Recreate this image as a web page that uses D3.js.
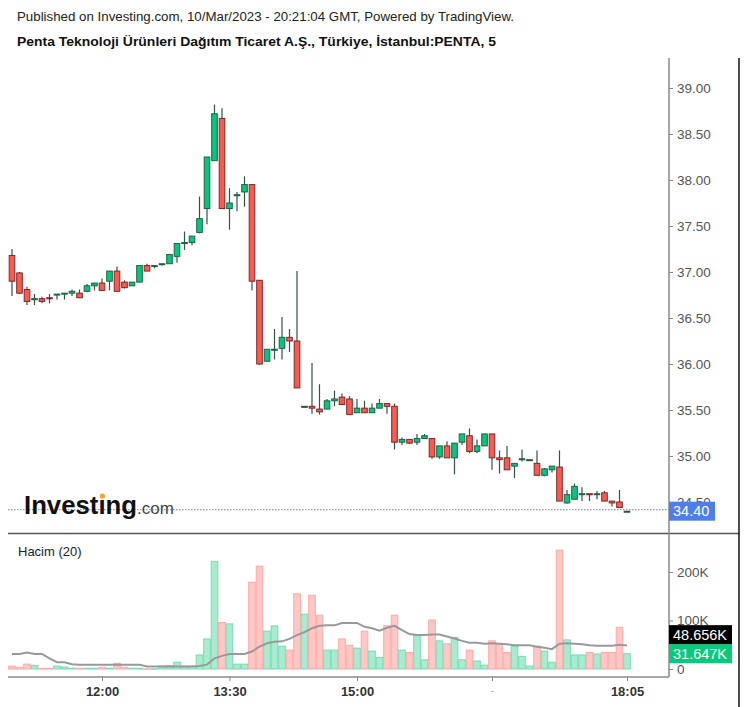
<!DOCTYPE html>
<html><head><meta charset="utf-8">
<script src="https://cdn.jsdelivr.net/npm/d3@7"></script>
<style>body{margin:0;background:#fff;} svg{display:block;font-family:"Liberation Sans",Arial,sans-serif;}</style>
</head><body><svg id="c" width="747" height="707"></svg>
<script>
// ---- data (5-minute bars) ----
const opens  = [37.18,36.99,36.81,36.70,36.71,36.72,36.75,36.76,36.77,36.77,36.79,36.85,36.88,36.90,37.01,36.89,36.85,36.89,37.07,37.06,37.08,37.09,37.17,37.31,37.32,37.43,37.69,38.21,38.67,37.69,37.83,37.87,37.95,36.91,36.03,36.15,36.17,36.29,36.25,35.54,35.54,35.51,35.51,35.60,35.64,35.62,35.47,35.52,35.47,35.52,35.57,35.54,35.15,35.18,35.15,35.19,35.19,34.99,35.11,34.98,35.15,35.22,35.05,35.11,35.24,34.98,34.98,34.89,34.96,34.96,34.92,34.79,34.85,34.88,34.49,34.53,34.58,34.59,34.58,34.60,34.51,34.50,34.40];
const highs  = [37.25,37.00,36.84,36.76,36.73,36.76,36.76,36.77,36.81,36.81,36.87,36.88,36.93,37.01,37.06,36.91,36.89,37.07,37.09,37.07,37.09,37.19,37.31,37.44,37.39,37.82,38.25,38.82,38.78,37.91,37.87,38.04,37.95,36.91,36.16,36.38,36.51,36.38,37.01,35.54,36.01,35.78,35.62,35.71,35.68,35.65,35.62,35.60,35.57,35.62,35.57,35.57,35.20,35.18,35.24,35.24,35.19,35.11,35.16,35.14,35.24,35.30,35.18,35.24,35.24,35.06,35.11,34.92,35.07,34.96,35.06,34.87,34.89,35.06,34.63,34.70,34.66,34.59,34.62,34.62,34.51,34.63,34.40];
const lows   = [36.74,36.76,36.64,36.64,36.66,36.66,36.70,36.70,36.74,36.72,36.78,36.80,36.80,36.80,36.79,36.82,36.85,36.89,37.01,37.04,37.07,37.09,37.10,37.24,37.29,37.42,37.52,38.21,37.69,37.46,37.66,37.71,36.80,35.99,36.03,36.05,36.05,36.13,35.74,35.54,35.46,35.45,35.51,35.54,35.56,35.45,35.47,35.47,35.47,35.52,35.46,35.07,35.12,35.13,35.12,35.19,34.97,34.97,34.98,34.80,35.12,35.03,35.03,35.11,34.85,34.81,34.85,34.76,34.94,34.96,34.79,34.78,34.82,34.51,34.48,34.53,34.51,34.51,34.53,34.51,34.45,34.44,34.40];
const closes = [36.90,36.77,36.68,36.71,36.68,36.71,36.76,36.77,36.79,36.72,36.85,36.88,36.80,37.01,36.79,36.83,36.89,37.07,37.01,37.07,37.09,37.19,37.31,37.32,37.39,37.58,38.25,38.72,37.69,37.75,37.84,37.95,36.90,36.00,36.16,36.16,36.29,36.25,35.74,35.54,35.52,35.48,35.60,35.62,35.56,35.45,35.52,35.47,35.52,35.57,35.54,35.15,35.18,35.14,35.19,35.22,34.99,35.11,34.98,35.14,35.24,35.05,35.11,35.24,34.98,34.96,34.85,34.92,34.97,34.96,34.79,34.86,34.89,34.51,34.58,34.67,34.59,34.58,34.59,34.51,34.49,34.44,34.40];
// volume in thousands
const volumes = [6,3.5,10,7.6,1,1,6,4,1.5,1.5,1.5,1.5,3.5,1.5,11.7,3.5,1.5,1.5,0.5,0.5,6,7,14,6,6,29,62,222,96,93,10,10,179,212,78,89,47,39,155,113,152,111,39,39,62,49,43,78,37,24,89,111,39,34,70,19,101,58,52,65,19,39,16.5,8,58,52,34,47,26,6,47,37,14,245,60,29,29,34,31,34,34,86,31.647];
// 20-period volume average (thousands)
const volMA = [31,31,34,31,31,22,14,14,10,9,9,9,9,9,9,9,9,9,5,5,5,5,5,5,5,6,9,22,27,31,31,31,36,46,53,56,57,62,70,76,84,89,90,90,95,95,95,87,84,79,85,89,80,72,70,70,71,71,67,63,58,54,54,52,53,52,51,49,49,49,46,44,41,52,53,52,51,49,48,48,48,50,48.656];
const timeTickIdx = [12,29,46,64,82];
const timeTickLabels = ["12:00","13:30","15:00","-","18:05"];
const priceTicks = [34.5,35,35.5,36,36.5,37,37.5,38,38.5,39];
const volTicks = [0,100,200];
const volTickLabels = ["0","100K","200K"];
const lastPrice = 34.40, lastMA = 48.656, lastVol = 31.647;

// ---- layout ----
const L = 8, R = 669, FR = 739, PT = 58, PB = 533.5, VB = 677;
const svg = d3.select("#c");
const x = d3.scaleLinear().domain([0, 82]).range([12, 627]);
const yP = d3.scaleLinear().domain([34.5, 39]).range([502, 88]);
const yV = d3.scaleLinear().domain([0, 200]).range([669, 572]);

const GREEN = "#08c47c", GREEN_B = "#1f6346", RED = "#fa5a50", RED_B = "#7a2a2a", WICK = "#2f5444";

// header
svg.append("text").attr("x",17).attr("y",21).attr("font-size",13.2).attr("fill","#222")
  .attr("textLength",497).attr("lengthAdjust","spacingAndGlyphs")
  .text("Published on Investing.com, 10/Mar/2023 - 20:21:04 GMT, Powered by TradingView.");
svg.append("text").attr("x",17).attr("y",46).attr("font-size",13.5).attr("font-weight","bold").attr("fill","#111")
  .attr("textLength",479).attr("lengthAdjust","spacingAndGlyphs")
  .text("Penta Teknoloji Ürünleri Dağıtım Ticaret A.Ş., Türkiye, İstanbul:PENTA, 5");

const idx = d3.range(opens.length);

// volume bars
svg.append("g").selectAll("rect").data(idx).join("rect")
  .attr("x", i => x(i) - 3.3).attr("width", 6.6)
  .attr("y", i => yV(volumes[i])).attr("height", i => Math.max(0.5, yV(0) - yV(volumes[i])))
  .attr("fill", i => closes[i] >= opens[i] ? "#a9ebd0" : "#ffc8c5")
  .attr("stroke", i => closes[i] >= opens[i] ? "#7adbb2" : "#ffa8a4").attr("stroke-width", 1);

// volume MA
svg.append("path").datum(idx)
  .attr("d", d3.line().x(i => x(i)).y(i => yV(volMA[i])))
  .attr("fill","none").attr("stroke","#999").attr("stroke-width",2);

// last price dotted line
svg.append("line").attr("x1",L).attr("x2",R).attr("y1",yP(lastPrice)-1.5).attr("y2",yP(lastPrice)-1.5)
  .attr("stroke","#5b82e6").attr("stroke-width",1).attr("stroke-dasharray","1.5,1.5");

// logo
const logo = svg.append("g");
const inv = logo.append("text").attr("x",24).attr("y",514).attr("font-size",26).attr("font-weight","bold")
  .attr("fill","#111").attr("textLength",113).attr("lengthAdjust","spacingAndGlyphs").text("Investing");
logo.append("text").attr("x",137).attr("y",514).attr("font-size",17).attr("fill","#444").text(".com");

// candles
const cg = svg.append("g");
cg.selectAll("line").data(idx).join("line")
  .attr("x1", i => x(i)).attr("x2", i => x(i))
  .attr("y1", i => yP(highs[i])).attr("y2", i => yP(lows[i]))
  .attr("stroke", WICK).attr("stroke-width", 1.2);
cg.selectAll("rect").data(idx).join("rect")
  .attr("x", i => x(i) - 2.8).attr("width", 5.6)
  .attr("y", i => yP(Math.max(opens[i], closes[i])))
  .attr("height", i => Math.max(1, Math.abs(yP(opens[i]) - yP(closes[i]))))
  .attr("fill", i => closes[i] > opens[i] ? GREEN : closes[i] < opens[i] ? RED : WICK)
  .attr("stroke", i => closes[i] > opens[i] ? GREEN_B : closes[i] < opens[i] ? RED_B : WICK)
  .attr("stroke-width", 1);

// frame lines
svg.append("line").attr("x1",L).attr("x2",FR).attr("y1",PB).attr("y2",PB).attr("stroke","#555").attr("stroke-width",1.5);
svg.append("line").attr("x1",FR).attr("x2",FR).attr("y1",PT).attr("y2",707).attr("stroke","#111").attr("stroke-width",1.5);

// price axis
const pa = svg.append("g").attr("transform",`translate(${R},0)`)
  .call(d3.axisRight(yP).tickValues(priceTicks).tickFormat(d3.format(".2f")).tickSize(4).tickPadding(4));
pa.select(".domain").remove();
pa.selectAll("line").attr("stroke","#888");
pa.selectAll("text").attr("font-size",13.5).attr("fill","#555").attr("font-family","Liberation Sans, Arial, sans-serif");

// volume axis
const va = svg.append("g").attr("transform",`translate(${R},0)`)
  .call(d3.axisRight(yV).tickValues(volTicks).tickFormat((d,i)=>volTickLabels[i]).tickSize(4).tickPadding(4));
va.select(".domain").remove();
va.selectAll("line").attr("stroke","#888");
va.selectAll("text").attr("font-size",13.5).attr("fill","#555").attr("font-family","Liberation Sans, Arial, sans-serif");

svg.append("line").attr("x1",R).attr("x2",R).attr("y1",PT).attr("y2",VB).attr("stroke","#8a8a8a").attr("stroke-width",1.5);

// time axis
svg.append("line").attr("x1",L).attr("x2",R).attr("y1",VB).attr("y2",VB).attr("stroke","#8a8a8a").attr("stroke-width",1.5);
const ta = svg.append("g").attr("transform",`translate(0,${VB})`)
  .call(d3.axisBottom(x).tickValues(timeTickIdx).tickFormat((d,i)=>timeTickLabels[i]).tickSize(4).tickPadding(6));
ta.select(".domain").remove();
ta.selectAll("line").attr("stroke","#888");
ta.selectAll("text").attr("font-size",13).attr("font-weight","bold").attr("fill","#333")
  .attr("font-family","Liberation Sans, Arial, sans-serif");
ta.selectAll("text").filter(d => timeTickLabels[timeTickIdx.indexOf(d)] === "-").attr("font-weight","normal").attr("fill","#aaa").attr("font-size",10);

// volume title
svg.append("text").attr("x",18).attr("y",556).attr("font-size",13).attr("fill","#222").text("Hacim (20)");

// last price label
const lpY = yP(lastPrice);
svg.append("rect").attr("x",R).attr("y",lpY-9.5).attr("width",46).attr("height",19).attr("fill","#4f7ee8");
svg.append("text").attr("x",R+4).attr("y",lpY+5).attr("font-size",14.5).attr("fill","#fff").text(lastPrice.toFixed(2));

// volume labels
const lvY = yV(lastVol);
svg.append("rect").attr("x",R).attr("y",lvY-9.5).attr("width",63).attr("height",19).attr("fill","#0ac97d");
svg.append("text").attr("x",R+4).attr("y",lvY+5).attr("font-size",14.5).attr("fill","#fff").text(lastVol.toFixed(3)+"K");
svg.append("rect").attr("x",R).attr("y",lvY-9.5-19).attr("width",63).attr("height",19).attr("fill","#000");
svg.append("text").attr("x",R+4).attr("y",lvY-14).attr("font-size",14.5).attr("fill","#fff").text(lastMA.toFixed(3)+"K");

// orange tittle on the logo's second "i"
(function(){
  const n = inv.node();
  let cx = 101.5;
  try {
    const s = n.getStartPositionOfChar(6), e = n.getEndPositionOfChar(6);
    if (isFinite(s.x) && isFinite(e.x) && e.x > s.x) cx = (s.x + e.x) / 2;
  } catch(err) {}
  logo.append("circle").attr("cx", cx + 0.5).attr("cy", 496).attr("r", 2.6).attr("fill", "#f5a623");
})();
</script></body></html>
